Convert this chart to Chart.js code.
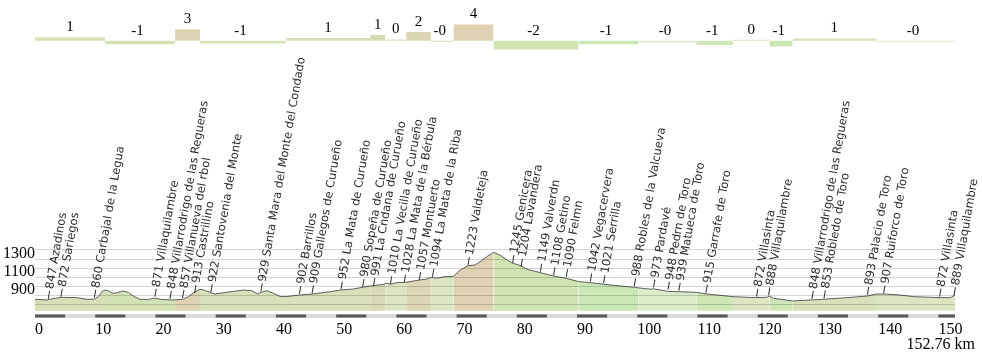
<!DOCTYPE html>
<html>
<head>
<meta charset="utf-8">
<script src="https://cdn.jsdelivr.net/npm/chart.js@4.4.1/dist/chart.umd.min.js"></script>
<style>
  html, body { margin: 0; padding: 0; background: #fff; }
</style>
</head>
<body>
<canvas id="perfil" width="982" height="354"></canvas>
<script>
// perfil: km y altitud (m)
const perfilKm = [0, 1.9, 4.3, 6.9, 8.6, 9.85, 10.5, 11.1, 11.63, 12.2, 13.0, 13.6, 14.6, 15.5, 16.3, 17.4, 18.8, 19.9, 20.8, 22.4,
  23.26, 24.5, 25.5, 26.5, 27.41, 28.0, 29.2, 29.9, 31.8, 33.5, 34.6, 36.0, 37.0, 37.5, 38.5, 39.6, 40.7, 41.69, 43.9, 46.0,
  49.0, 50.8, 52.9, 54.4, 55.65, 57.9, 58.14, 58.4, 59.0, 60.1, 61.63, 62.6, 63.8, 65.1, 65.73, 65.9, 66.7, 68.1, 69.49, 70.6,
  71.9, 73.1, 73.9, 75.0, 76.13, 77.2, 78.4, 79.3, 80.0, 80.7, 81.7, 83.9, 86.1, 88.2, 90.25, 92.2, 94.4, 97.2, 99.5, 100.22,
  102.2, 102.7, 105.2, 107.0, 109.8, 111.6, 115.9, 119.6, 121.5, 121.98, 122.6, 125.8, 128.7, 131.0, 134.8, 138.2, 139.65, 141.2,
  143.7, 145.9, 150.3, 152.0, 152.76];
const perfilAlt = [854, 846, 876, 872, 854, 855, 883, 938, 957, 946, 920, 927, 946, 931, 890, 854, 852, 866, 854, 846,
  848, 854, 883, 935, 966, 957, 927, 912, 931, 946, 955, 949, 912, 931, 949, 920, 885, 883, 901, 912,
  938, 957, 968, 987, 1001, 1020, 1026, 1031, 1020, 1038, 1043, 1053, 1067, 1079, 1095, 1097, 1087, 1105, 1108, 1178,
  1226, 1234, 1270, 1326, 1374, 1344, 1289, 1252, 1241, 1225, 1186, 1149, 1112, 1086, 1050, 1038, 1020, 1001, 987, 980,
  966, 970, 940, 938, 931, 912, 883, 872, 876, 890, 865, 835, 846, 854, 872, 890, 912, 912,
  901, 883, 872, 872, 901];

// tramos de pendiente (%)
const tramoIni = [0, 11.63, 23.26, 27.41, 41.69, 55.65, 58.14, 61.63, 65.73, 69.49, 76.13, 90.25, 100.22, 109.8, 115.9, 121.98, 125.8, 139.65];
const tramoFin = [11.63, 23.26, 27.41, 41.69, 55.65, 58.14, 61.63, 65.73, 69.49, 76.13, 90.25, 100.22, 109.8, 115.9, 121.98, 125.8, 139.65, 152.76];
const tramoPend = [0.85, -0.9, 2.8, -0.68, 0.68, 1.4, 0.3, 2.15, -0.3, 4.0, -2.15, -0.9, -0.45, -1.05, 0.25, -1.45, 0.57, -0.25];
const tramoColor = ['#d9deb7', '#d3e2b5', '#ddd3b3', '#d6e2b9', '#d9dfb9', '#d8dab5', '#dce6c2', '#dcd6b4', '#dae6c4',
  '#dfd1b3', '#d0e3b3', '#cae8b6', '#dcebc9', '#cfe6b6', '#dfe5c4', '#cde6b5', '#d7e0b8', '#dbe5c4'];

// puntos de paso
const pasoKm = [2.2, 4.3, 9.85, 19.9, 22.4, 24.5, 26.5, 29.2, 37.5, 43.9, 46.0, 50.8, 54.4, 56.2, 59.0, 61.3, 63.8, 66.0, 71.9,
  79.3, 80.7, 83.9, 86.1, 88.2, 92.2, 94.4, 99.5, 102.7, 105.1, 106.9, 111.4, 119.8, 121.8, 129.0, 131.0, 138.2, 140.9, 150.2, 152.6];
const pasoAlt = [847, 872, 860, 871, 848, 857, 913, 922, 929, 902, 909, 952, 980, 991, 1010, 1028, 1057, 1094, 1223,
  1245, 1204, 1149, 1108, 1090, 1042, 1021, 988, 973, 948, 939, 915, 872, 888, 848, 853, 893, 907, 872, 889];
const pasoNombre = ['Azadinos', 'Sariegos', 'Carbajal de la Legua', 'Villaquilambre', 'Villarrodrigo de las Regueras',
  'Villanueva del rbol', 'Castrillino', 'Santovenia del Monte', 'Santa Mara del Monte del Condado', 'Barrillos',
  'Gallegos de Curueño', 'La Mata de Curueño', 'Sopeña de Curueño', 'La Cndana de Curueño', 'La Vecilla de Curueño',
  'La Mata de la Bérbula', 'Montuerto', 'La Mata de la Riba', 'Valdeteja', 'Genicera', 'Lavandera', 'Valverdn', 'Getino',
  'Felmn', 'Vegacervera', 'Serrilla', 'Robles de la Valcueva', 'Pardavé', 'Pedrn de Toro', 'Matueca de Toro',
  'Garrafe de Toro', 'Villasinta', 'Villaquilambre', 'Villarrodrigo de las Regueras', 'Robledo de Toro', 'Palacio de Toro',
  'Ruiforco de Toro', 'Villasinta', 'Villaquilambre'];

const ticksKm = [0, 10, 20, 30, 40, 50, 60, 70, 80, 90, 100, 110, 120, 130, 140, 150];
const ticksAltGrid = [800, 900, 1000, 1100, 1200, 1300, 1400];
const ticksAltLabel = [900, 1100, 1300];
const totalKm = 152.76;
const baseAlt = 727;

const serif = '"Liberation Serif", "Times New Roman", serif';

const datasets = [];
// linea del perfil (encima de todo)
datasets.push({
  data: perfilKm.map((k, i) => ({ x: k, y: perfilAlt[i] })),
  borderColor: '#5e5e5e', borderWidth: 1, pointRadius: 0, fill: false, yAxisID: 'y'
});
// relleno por tramo
tramoIni.forEach((ini, t) => {
  const pts = [];
  perfilKm.forEach((k, i) => {
    if (k >= ini - 1e-9 && k <= tramoFin[t] + 1e-9) pts.push({ x: k, y: perfilAlt[i] });
  });
  datasets.push({
    data: pts, borderWidth: 0, pointRadius: 0, backgroundColor: tramoColor[t],
    fill: { value: baseAlt }, yAxisID: 'y'
  });
});
// barras de pendiente
tramoIni.forEach((ini, t) => {
  datasets.push({
    data: [{ x: ini, y: tramoPend[t] }, { x: tramoFin[t], y: tramoPend[t] }],
    borderWidth: 0, pointRadius: 0, backgroundColor: tramoColor[t],
    fill: { value: 0 }, yAxisID: 'g'
  });
});

const decor = {
  id: 'decor',
  afterDraw(chart) {
    const ctx = chart.ctx;
    const x = chart.scales.x, y = chart.scales.y, g = chart.scales.g;
    const area = chart.chartArea;

    // barra de km
    const x0 = x.getPixelForValue(0), x1 = x.getPixelForValue(totalKm);
    const yb = area.bottom - 4;
    ctx.save();
    ctx.fillStyle = '#b4b4b4';
    ctx.fillRect(x0, yb - 1.5, x1 - x0, 3);
    ctx.fillStyle = '#fff';
    ctx.fillRect(x0, yb - 0.5, x1 - x0, 1);
    ctx.fillStyle = '#595959';
    ticksKm.forEach(k => {
      const a = x.getPixelForValue(k), b = x.getPixelForValue(Math.min(k + 5, totalKm));
      ctx.fillRect(a, yb - 1.5, b - a, 3);
    });

    // texto de distancia total
    ctx.fillStyle = '#000';
    ctx.font = '16px ' + serif;
    ctx.textAlign = 'right';
    ctx.textBaseline = 'middle';
    ctx.fillText(totalKm + ' km', area.right + 20, 345);

    // etiquetas de pendiente
    ctx.font = '15px ' + serif;
    ctx.textBaseline = 'middle';
    tramoPend.forEach((p, t) => {
      const cx = (x.getPixelForValue(tramoIni[t]) + x.getPixelForValue(tramoFin[t])) / 2;
      const top = Math.min(g.getPixelForValue(p), g.getPixelForValue(0));
      const n = Math.abs(Math.round(p));
      const w = ctx.measureText(String(n)).width;
      ctx.textAlign = 'center';
      ctx.fillText(String(n), cx, top - 10);
      if (p < 0) {
        ctx.textAlign = 'right';
        ctx.fillText('-', cx - w / 2, top - 10);
      }
    });

    // puntos de paso
    ctx.font = '11.5px "DejaVu Sans", sans-serif';
    ctx.fillStyle = '#2e2e2e';
    ctx.strokeStyle = '#2e2e2e';
    ctx.lineWidth = 1;
    ctx.textAlign = 'left';
    ctx.textBaseline = 'middle';
    pasoKm.forEach((k, i) => {
      const px = x.getPixelForValue(k), py = y.getPixelForValue(pasoAlt[i]) - 1;
      ctx.save();
      ctx.translate(px, py);
      ctx.rotate(-80 * Math.PI / 180);
      ctx.beginPath();
      ctx.moveTo(0, 0);
      ctx.lineTo(8, 0);
      ctx.stroke();
      ctx.fillText(pasoAlt[i] + ' ' + pasoNombre[i], 10, 0);
      ctx.restore();
    });
    ctx.restore();
  }
};

new Chart(document.getElementById('perfil'), {
  type: 'line',
  data: { datasets },
  options: {
    responsive: false,
    animation: false,
    devicePixelRatio: 1,
    layout: { padding: { left: 0, right: 27, top: 0, bottom: 0 } },
    plugins: { legend: { display: false }, tooltip: { enabled: false } },
    elements: { line: { tension: 0 } },
    scales: {
      x: {
        type: 'linear', min: 0, max: totalKm,
        afterBuildTicks: s => { s.ticks = ticksKm.map(v => ({ value: v })); },
        afterFit: s => { s.height = 34; s.paddingLeft = 0; s.paddingRight = 0; },
        grid: { display: false, drawTicks: false },
        border: { display: false },
        ticks: { align: 'start', padding: 0, maxRotation: 0, autoSkip: false, color: '#000', font: { family: serif, size: 16 } }
      },
      y: {
        type: 'linear', position: 'left', min: 624.5, max: 4168.2,
        afterBuildTicks: s => { s.ticks = ticksAltGrid.map(v => ({ value: v })); },
        afterFit: s => { s.width = 35; s.paddingTop = 0; s.paddingBottom = 0; },
        grid: { color: 'rgba(0,0,0,0.17)', drawTicks: false, z: 1 },
        border: { display: false },
        ticks: {
          padding: 0, labelOffset: -5, color: '#000', font: { family: serif, size: 16 },
          callback: v => ticksAltLabel.includes(v) ? String(v) : ''
        }
      },
      g: { type: 'linear', axis: 'y', position: 'left', display: false, min: -68.96, max: 10.05 }
    }
  },
  plugins: [decor]
});
</script>
</body>
</html>
